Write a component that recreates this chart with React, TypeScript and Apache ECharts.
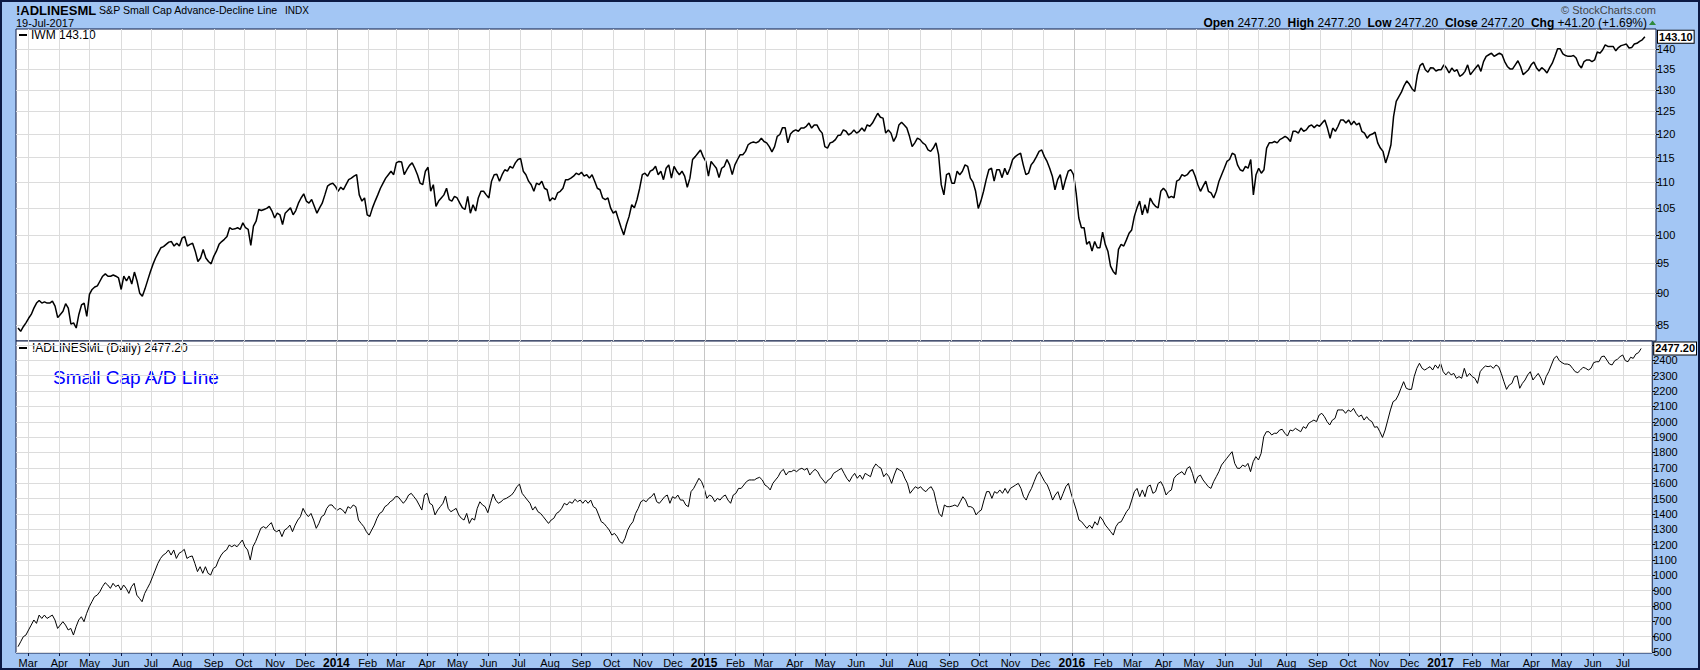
import { useEffect, useRef } from 'react';
import * as echarts from 'echarts';

const FONT = 'Arial, "Liberation Sans", Helvetica, sans-serif';
const MONTHS = ['Jan', 'Feb', 'Mar', 'Apr', 'May', 'Jun', 'Jul', 'Aug', 'Sep', 'Oct', 'Nov', 'Dec'];

const IWM_TICKS = [85, 90, 95, 100, 105, 110, 115, 120, 125, 130, 135, 140];
const AD_TICKS = [500, 600, 700, 800, 900, 1000, 1100, 1200, 1300, 1400, 1500, 1600, 1700, 1800, 1900, 2000, 2100, 2200, 2300, 2400];
const AD_GRID = [...AD_TICKS, 2500];
const IWM_LAST = 143.1;
const AD_LAST = 2477.2;

const DATA_START = '2013-02-19';
const DATA_END = '2017-07-19';
const AXIS_START = '2013-02-17';
const AXIS_END = '2017-07-30';

const IWM_VALUES = [
  84.5, 84.0, 84.7, 85.3, 86.0, 86.6, 87.6, 88.4, 88.8, 88.4,
  88.6, 88.4, 88.4, 88.7, 87.9, 86.1, 86.6, 87.1, 88.3, 87.6,
  85.1, 85.3, 84.5, 86.6, 88.1, 88.4, 86.3, 89.8, 90.6, 91.0,
  91.2, 92.0, 92.8, 93.2, 92.8, 92.8, 93.0, 92.8, 92.5, 90.6,
  92.8, 92.0, 92.8, 91.5, 93.5, 92.0, 90.0, 89.5, 90.7, 92.1,
  93.5, 94.8, 95.9, 96.8, 97.7, 97.9, 98.3, 98.7, 98.8, 98.0,
  98.5, 98.0, 99.4, 99.7, 98.0, 98.3, 98.5, 97.1, 95.3, 95.9,
  97.4, 95.9, 95.3, 94.9, 96.2, 97.1, 98.3, 98.8, 99.2, 99.7,
  101.3, 101.0, 101.1, 101.3, 101.0, 102.2, 101.3, 101.0, 98.1, 101.6,
  102.5, 104.7, 104.5, 104.7, 104.9, 105.3, 104.4, 103.1, 104.0, 103.7,
  101.9, 104.0, 104.5, 105.0, 103.7, 104.5, 105.9, 106.9, 107.7, 106.3,
  105.9, 106.6, 105.3, 104.0, 105.0, 105.9, 107.5, 109.2, 109.6, 109.8,
  109.2, 108.2, 109.0, 108.5, 109.5, 110.5, 110.8, 111.2, 111.5, 107.5,
  106.3, 106.9, 103.7, 103.4, 105.0, 106.3, 107.5, 108.8, 109.8, 110.8,
  111.5, 112.2, 111.5, 113.9, 114.2, 114.1, 111.5, 112.5, 113.4, 113.9,
  112.8, 111.5, 109.8, 109.5, 112.2, 113.0, 108.2, 109.5, 105.3, 106.3,
  106.9, 107.5, 108.8, 106.6, 106.3, 107.2, 106.9, 105.9, 105.0, 104.7,
  107.2, 104.0, 105.6, 104.4, 106.9, 108.2, 108.2, 107.5, 106.9, 110.2,
  111.5, 111.6, 110.2, 111.5, 112.5, 112.2, 113.2, 112.8, 113.9, 114.6,
  114.8, 112.2, 111.5, 110.2, 109.5, 108.2, 109.8, 109.5, 110.2, 108.8,
  108.5, 106.3, 106.9, 106.6, 107.9, 108.2, 108.8, 110.5, 110.5, 110.8,
  111.2, 111.8, 111.5, 112.0, 111.2, 111.5, 110.8, 111.5, 110.2, 108.8,
  108.5, 106.9, 106.6, 106.9, 105.0, 104.0, 104.4, 102.8, 101.3, 100.0,
  101.9, 103.4, 105.6, 105.0, 106.6, 108.8, 111.5, 111.8, 111.2, 112.2,
  112.5, 113.2, 111.5, 112.2, 110.5, 112.8, 113.5, 110.8, 113.2, 112.2,
  111.5, 112.2, 111.2, 109.0, 110.8, 114.6, 115.2, 115.9, 116.6, 115.2,
  114.2, 111.2, 114.2, 113.5, 112.8, 110.9, 112.8, 113.2, 114.6, 113.5,
  111.5, 113.5, 114.6, 115.6, 115.6, 116.3, 117.7, 118.1, 118.3, 118.1,
  118.4, 119.1, 118.4, 118.1, 117.3, 116.2, 117.3, 119.5, 119.9, 121.4,
  121.4, 118.1, 120.0, 120.6, 120.9, 120.6, 121.3, 121.3, 121.7, 122.4,
  121.3, 122.0, 122.0, 120.9, 120.2, 117.3, 117.0, 118.1, 118.3, 118.8,
  119.7,
  119.8, 120.9, 120.6, 119.8, 120.2, 120.9, 120.2, 120.6, 121.3, 120.6,
  122.0, 121.7, 122.4, 123.5, 124.6, 123.7, 123.5, 120.2, 120.9, 120.2,
  118.4, 119.5, 122.0, 122.6, 122.0, 121.3, 119.5, 117.3, 118.1, 119.1,
  118.8, 118.1, 117.7, 116.6, 116.3, 117.0, 118.1, 115.6, 109.5, 107.5,
  111.5, 111.8, 109.8, 109.8, 112.2, 111.5, 112.2, 113.5, 113.2, 110.8,
  110.0, 108.2, 104.9, 106.3, 108.2, 110.5, 112.5, 112.8, 110.2, 112.5,
  112.5, 110.9, 112.8, 111.5, 112.8, 114.6, 115.2, 115.6, 115.9, 113.5,
  111.5, 111.8, 113.5, 114.2, 115.2, 116.3, 116.6, 115.2, 114.2, 112.8,
  111.2, 108.5, 110.5, 111.5, 108.5, 110.5, 112.2, 112.5, 111.5, 107.9,
  103.1, 101.3, 101.3, 98.3, 98.8, 97.1, 98.8, 97.7, 97.7, 100.5,
  98.3, 97.1, 94.5, 93.6, 93.1, 97.4, 98.3, 98.0, 99.1, 100.3,
  100.9, 103.4, 105.0, 106.3, 103.7, 105.6, 104.0, 106.9, 105.9, 105.3,
  105.0, 108.2, 108.8, 108.2, 106.9, 107.2, 106.9, 110.2, 110.5, 111.5,
  111.2, 111.5, 112.2, 112.5, 111.2, 109.5, 108.2, 109.2, 110.2, 108.2,
  107.9, 106.9, 108.2, 110.2, 111.5, 112.8, 114.2, 114.6, 115.9, 115.6,
  113.5, 112.5, 112.2, 113.2, 112.8, 114.6, 107.5, 111.5, 112.8, 111.8,
  112.5, 117.0, 118.1, 118.1, 118.4, 118.1, 118.8, 119.1, 119.5, 119.1,
  118.4, 120.6, 120.6, 120.2, 121.3, 120.6, 120.9, 121.7, 122.0, 121.4,
  122.0, 121.7, 122.4, 123.1, 121.3, 119.1, 121.3, 120.6, 121.7, 123.1,
  123.1, 122.4, 123.1, 122.0, 122.8, 122.0, 122.4, 120.6, 120.2, 119.1,
  119.8, 120.0, 120.4, 118.1, 117.0, 116.3, 113.9, 115.6, 117.7, 123.9,
  127.3, 128.4, 129.5, 131.0, 132.1, 131.3, 130.2, 129.6, 133.6, 135.8,
  136.4, 134.8, 134.2, 135.3, 135.2, 134.5, 134.8, 134.8, 136.0, 135.2,
  134.0, 135.2, 134.4, 134.8, 133.2, 133.6, 134.4, 136.0, 133.6, 134.4,
  135.2, 136.0, 134.4, 136.8, 138.1, 138.5, 138.9, 138.1, 138.5, 138.9,
  138.5, 136.8, 135.6, 135.0, 135.0, 136.0, 137.0, 135.6, 133.6, 134.2,
  134.8, 136.0, 136.7, 135.3, 134.5, 135.3, 134.8, 134.0, 135.3, 136.4,
  138.1, 140.0, 140.0, 138.7, 138.3, 138.1, 138.1, 138.3, 137.7, 136.0,
  135.2, 136.8, 137.2, 137.2, 136.8, 137.2, 139.2, 138.9, 139.7, 141.0,
  140.6, 140.6, 140.6, 139.5, 140.3, 140.8, 141.0, 141.2, 140.2, 140.3,
  141.2, 141.4, 141.9, 142.3, 143.1,
];

const AD_VALUES = [
  535, 567, 600, 611, 644, 676, 709, 687, 741, 719,
  741, 719, 730, 741, 709, 654, 676, 698, 676, 644,
  654, 611, 665, 709, 730, 698, 752, 795, 828, 861,
  871, 893, 926, 952, 937, 915, 948, 926, 937, 904,
  937, 915, 882, 926, 948, 871, 850, 828, 882, 915,
  948, 991, 1034, 1078, 1110, 1132, 1143, 1165, 1132, 1165,
  1110, 1143, 1154, 1169, 1110, 1121, 1126, 1078, 1024, 1056,
  1013, 1056, 1013, 1002, 1045, 1056, 1100, 1132, 1154, 1165,
  1197, 1186, 1197, 1186, 1208, 1230, 1186, 1165, 1100, 1186,
  1219, 1262, 1306, 1317, 1306, 1327, 1343, 1295, 1284, 1295,
  1252, 1295, 1306, 1327, 1284, 1327, 1360, 1382, 1436, 1403,
  1382, 1403, 1360, 1306, 1338, 1382, 1393, 1436, 1458, 1458,
  1436, 1425, 1436, 1425, 1403, 1447, 1436, 1458, 1447, 1360,
  1338, 1317, 1284, 1262, 1295, 1327, 1371, 1403, 1414, 1447,
  1458, 1479, 1490, 1512, 1512, 1490, 1469, 1490, 1523, 1534,
  1512, 1490, 1458, 1425, 1523, 1534, 1469, 1458, 1393, 1425,
  1447, 1469, 1516, 1436, 1414, 1425, 1436, 1393, 1371, 1360,
  1403, 1338, 1371, 1360, 1436, 1479, 1458, 1447, 1408, 1469,
  1529, 1490, 1469, 1479, 1495, 1501, 1512, 1523, 1545, 1577,
  1594, 1534, 1512, 1490, 1469, 1425, 1447, 1414, 1403, 1382,
  1360, 1338, 1360, 1371, 1403, 1414, 1436, 1469, 1458, 1479,
  1469, 1495, 1479, 1490, 1469, 1490, 1469, 1490, 1447, 1436,
  1393, 1349, 1338, 1317, 1295, 1262, 1273, 1252, 1219, 1208,
  1241, 1295, 1327, 1349, 1403, 1436, 1479, 1490, 1479, 1501,
  1512, 1534, 1479, 1469, 1490, 1512, 1523, 1469, 1512, 1501,
  1523, 1490, 1490, 1458, 1447, 1545, 1566, 1599, 1632, 1610,
  1566, 1501, 1523, 1512, 1479, 1501, 1490, 1512, 1523, 1490,
  1469, 1523, 1534, 1566, 1566, 1588, 1610, 1621, 1621, 1621,
  1632, 1638, 1621, 1588, 1577, 1556, 1599, 1621, 1642, 1675,
  1690, 1653, 1675, 1675, 1686, 1675, 1690, 1697, 1686, 1697,
  1653, 1675, 1690, 1675, 1642, 1621, 1599, 1621, 1632, 1664,
  1675,
  1686, 1697, 1664, 1632, 1610, 1642, 1664, 1632, 1653, 1625,
  1664, 1653, 1642, 1697, 1725, 1708, 1697, 1642, 1664, 1642,
  1599, 1653, 1697, 1686, 1675, 1632, 1599, 1534, 1556, 1577,
  1566, 1577, 1556, 1545, 1566, 1577, 1545, 1469, 1403, 1382,
  1458, 1447, 1447, 1451, 1458, 1447, 1479, 1512, 1490, 1447,
  1447, 1436, 1393, 1414, 1425, 1490, 1545, 1545, 1501, 1545,
  1534, 1556, 1534, 1566, 1534, 1566, 1577, 1588, 1599, 1566,
  1512, 1490, 1534, 1566, 1610, 1653, 1675, 1642, 1610, 1588,
  1545, 1490, 1523, 1545, 1490, 1534, 1577, 1599, 1534, 1479,
  1425, 1360, 1349, 1327, 1306, 1327, 1306, 1349, 1327, 1382,
  1360, 1327, 1306, 1284, 1262, 1317, 1343, 1349, 1382, 1414,
  1436, 1490, 1545, 1566, 1512, 1556, 1512, 1577, 1588, 1534,
  1545, 1599, 1610, 1577, 1523, 1545, 1556, 1632, 1653, 1664,
  1675, 1653, 1697, 1708, 1664, 1599, 1642, 1653, 1621, 1599,
  1577, 1566, 1610, 1642, 1675, 1718, 1740, 1762, 1784, 1805,
  1729, 1697, 1697, 1718, 1708, 1729, 1675, 1740, 1773, 1751,
  1794, 1903, 1935, 1935, 1914, 1925, 1925, 1946, 1951, 1925,
  1907, 1946, 1941, 1957, 1946, 1935, 1968, 1957, 1990, 2001,
  2011, 2001, 2044, 2055, 2033, 2001, 1979, 2011, 2022, 2077,
  2077, 2077, 2055, 2077, 2066, 2087, 2055, 2033, 2044, 2011,
  2033, 2011, 2001, 1964, 1968, 1935, 1898, 1946, 2011, 2077,
  2131, 2142, 2174, 2218, 2261, 2218, 2211, 2211, 2294, 2348,
  2381, 2348, 2337, 2348, 2359, 2337, 2370, 2348, 2381, 2326,
  2305, 2326, 2305, 2315, 2283, 2294, 2283, 2348, 2294, 2315,
  2294, 2283, 2250, 2326, 2348, 2363, 2359, 2363, 2348, 2370,
  2359, 2315, 2261, 2211, 2239, 2250, 2294, 2299, 2218, 2250,
  2272, 2305, 2326, 2272, 2294, 2315, 2283, 2239, 2294, 2326,
  2370, 2413, 2428, 2398, 2385, 2376, 2376, 2370, 2348, 2326,
  2320, 2337, 2355, 2348, 2337, 2348, 2385, 2391, 2391, 2424,
  2428, 2402, 2376, 2370, 2398, 2407, 2424, 2435, 2398, 2391,
  2420, 2413, 2441, 2450, 2477.2,
];

const utc = (s: string) => Date.parse(s + 'T00:00:00Z');

function spread(values: number[], map: (v: number) => number) {
  const a = utc(DATA_START);
  const b = utc(DATA_END);
  const step = (b - a) / (values.length - 1);
  return values.map((v, i) => [a + i * step, map(v)]);
}

function monthStarts() {
  const lo = utc(AXIS_START);
  const hi = utc(AXIS_END);
  const out: number[] = [];
  for (let y = 2013; y <= 2017; y++) {
    for (let m = 0; m < 12; m++) {
      const t = Date.UTC(y, m, 1);
      if (t >= lo && t <= hi) out.push(t);
    }
  }
  return out;
}

export default function App() {
  const ref = useRef<HTMLDivElement>(null);

  useEffect(() => {
    if (!ref.current) return;
    const chart = echarts.init(ref.current, undefined, { renderer: 'svg' });
    const months = monthStarts();
    const years = months.filter((t) => new Date(t).getUTCMonth() === 0);
    const xMin = utc(AXIS_START);
    const xMax = utc(AXIS_END);
    const navy = '#0c1a44';
    const gridColor = '#dcdcdc';
    const iwmMin = Math.log(82.54);
    const iwmMax = Math.log(145.1);
    const adMin = 494;
    const adMax = 2526;
    const iwmTickVals = IWM_TICKS.map((v) => Math.log(v));

    const yearLines = {
      silent: true,
      symbol: ['none', 'none'],
      label: { show: false },
      lineStyle: { color: '#c6c6c6', type: 'solid', width: 1 },
      emphasis: { disabled: true },
      data: years.map((t) => ({ xAxis: t })),
    };

    const baseX = {
      type: 'value',
      min: xMin,
      max: xMax,
      axisLine: { show: false },
      splitLine: { show: true, lineStyle: { color: gridColor, width: 1 } },
    };

    const option: any = {
      animation: false,
      backgroundColor: '#a3c6f4',
      textStyle: { fontFamily: FONT },
      grid: [
        { left: 16, right: 44, top: 29, height: 312, show: true, backgroundColor: '#ffffff', borderColor: navy, borderWidth: 1 },
        { left: 16, right: 44, top: 341, height: 312, show: true, backgroundColor: '#ffffff', borderColor: navy, borderWidth: 1 },
      ],
      xAxis: [
        {
          ...baseX,
          gridIndex: 0,
          axisTick: { show: false, customValues: months },
          axisLabel: { show: false, customValues: months },
        },
        {
          ...baseX,
          gridIndex: 1,
          axisTick: { show: true, length: 3, inside: false, lineStyle: { color: navy }, customValues: months },
          axisLabel: {
            customValues: months,
            margin: 4,
            fontSize: 11,
            color: '#000',
            fontFamily: FONT,
            formatter: (v: number) => {
              const d = new Date(v);
              const m = d.getUTCMonth();
              return m === 0 ? '{y|' + d.getUTCFullYear() + '}' : MONTHS[m];
            },
            rich: { y: { fontWeight: 'bold', fontSize: 12, fontFamily: FONT, color: '#000' } },
          },
        },
      ],
      yAxis: [
        {
          gridIndex: 0,
          type: 'value',
          position: 'right',
          min: iwmMin,
          max: iwmMax,
          axisLine: { show: false },
          axisTick: { show: true, length: 3, lineStyle: { color: '#000' }, customValues: iwmTickVals },
          axisLabel: {
            customValues: iwmTickVals,
            margin: 1,
            fontSize: 11,
            color: '#000',
            fontFamily: FONT,
            formatter: (v: number) => String(Math.round(Math.exp(v))),
          },
          splitLine: { show: true, lineStyle: { color: gridColor, width: 1 } },
        },
        {
          gridIndex: 1,
          type: 'value',
          position: 'right',
          min: adMin,
          max: adMax,
          axisLine: { show: false },
          axisTick: { show: true, length: 3, lineStyle: { color: '#000' }, customValues: AD_GRID },
          axisLabel: {
            customValues: AD_TICKS,
            margin: 1,
            fontSize: 11,
            color: '#000',
            fontFamily: FONT,
            formatter: (v: number) => String(Math.round(v)),
          },
          splitLine: { show: true, lineStyle: { color: gridColor, width: 1 } },
        },
        {
          gridIndex: 0,
          type: 'value',
          position: 'right',
          min: iwmMin,
          max: iwmMax,
          axisLine: { show: false },
          axisTick: { show: false },
          splitLine: { show: false },
          axisLabel: {
            customValues: [Math.log(IWM_LAST)],
            formatter: () => IWM_LAST.toFixed(2),
            margin: 2,
            fontSize: 11,
            fontWeight: 'bold',
            color: '#000',
            fontFamily: FONT,
            backgroundColor: '#fff',
            borderColor: '#000',
            borderWidth: 1,
            padding: [1, 1, 0, 1],
          },
        },
        {
          gridIndex: 1,
          type: 'value',
          position: 'right',
          min: adMin,
          max: adMax,
          axisLine: { show: false },
          axisTick: { show: false },
          splitLine: { show: false },
          axisLabel: {
            customValues: [AD_LAST],
            formatter: () => AD_LAST.toFixed(2),
            margin: 2,
            fontSize: 11,
            fontWeight: 'bold',
            color: '#000',
            fontFamily: FONT,
            backgroundColor: '#fff',
            borderColor: '#000',
            borderWidth: 1,
            padding: [1, 1, 0, 1],
          },
        },
      ],
      series: [
        {
          type: 'line',
          xAxisIndex: 0,
          yAxisIndex: 0,
          data: spread(IWM_VALUES, (v) => Math.log(v)),
          symbol: 'none',
          showSymbol: false,
          silent: true,
          lineStyle: { color: '#000', width: 1.5 },
          markLine: yearLines,
          z: 3,
        },
        {
          type: 'line',
          xAxisIndex: 1,
          yAxisIndex: 1,
          data: spread(AD_VALUES, (v) => v),
          symbol: 'none',
          showSymbol: false,
          silent: true,
          lineStyle: { color: '#000', width: 1 },
          markLine: yearLines,
          z: 3,
        },
      ],
      graphic: [
        { type: 'rect', silent: true, z: 100, shape: { x: 1, y: 1, width: 1698, height: 668 }, style: { fill: 'none', stroke: navy, lineWidth: 2 } },
        { type: 'text', x: 16, y: 10, style: { text: '!ADLINESML', font: `bold 13px ${FONT}`, fill: '#000', verticalAlign: 'middle' } },
        { type: 'text', x: 99, y: 10, style: { text: 'S&P Small Cap Advance-Decline Line', font: `10.6px ${FONT}`, fill: '#000', verticalAlign: 'middle' } },
        { type: 'text', x: 285, y: 10, style: { text: 'INDX', font: `10px ${FONT}`, fill: '#000', verticalAlign: 'middle' } },
        { type: 'text', x: 16, y: 23, style: { text: '19-Jul-2017', font: `11px ${FONT}`, fill: '#000', verticalAlign: 'middle' } },
        { type: 'text', x: 1656, y: 10, style: { text: '© StockCharts.com', font: `11px ${FONT}`, fill: '#444', align: 'right', verticalAlign: 'middle' } },
        {
          type: 'text',
          x: 1647,
          y: 23,
          style: {
            text: '{b|Open} 2477.20  {b|High} 2477.20  {b|Low} 2477.20  {b|Close} 2477.20  {b|Chg} +41.20 (+1.69%)',
            font: `12px ${FONT}`,
            fill: '#000',
            align: 'right',
            verticalAlign: 'middle',
            rich: { b: { fontWeight: 'bold', fontSize: 12, fontFamily: FONT, fill: '#000' } },
          },
        },
        { type: 'polygon', shape: { points: [[1649, 25], [1656, 25], [1652.5, 20.5]] }, style: { fill: '#2f8a3c' } },
        { type: 'rect', shape: { x: 19, y: 34, width: 8, height: 2 }, style: { fill: '#000' } },
        { type: 'text', x: 31, y: 35, style: { text: 'IWM 143.10', font: `12px ${FONT}`, fill: '#000', verticalAlign: 'middle' } },
        { type: 'rect', shape: { x: 19, y: 347, width: 8, height: 2 }, style: { fill: '#000' } },
        { type: 'text', x: 32, y: 348, style: { text: '!ADLINESML (Daily) 2477.20', font: `12px ${FONT}`, fill: '#000', verticalAlign: 'middle' } },
        { type: 'text', x: 53, y: 377, style: { text: 'Small Cap A/D LIne', font: `19px ${FONT}`, fill: '#0000ff', verticalAlign: 'middle' } },
      ],
    };

    chart.setOption(option);
    return () => chart.dispose();
  }, []);

  return <div ref={ref} style={{ position: 'absolute', left: 0, top: 0, width: 1700, height: 670 }} />;
}
